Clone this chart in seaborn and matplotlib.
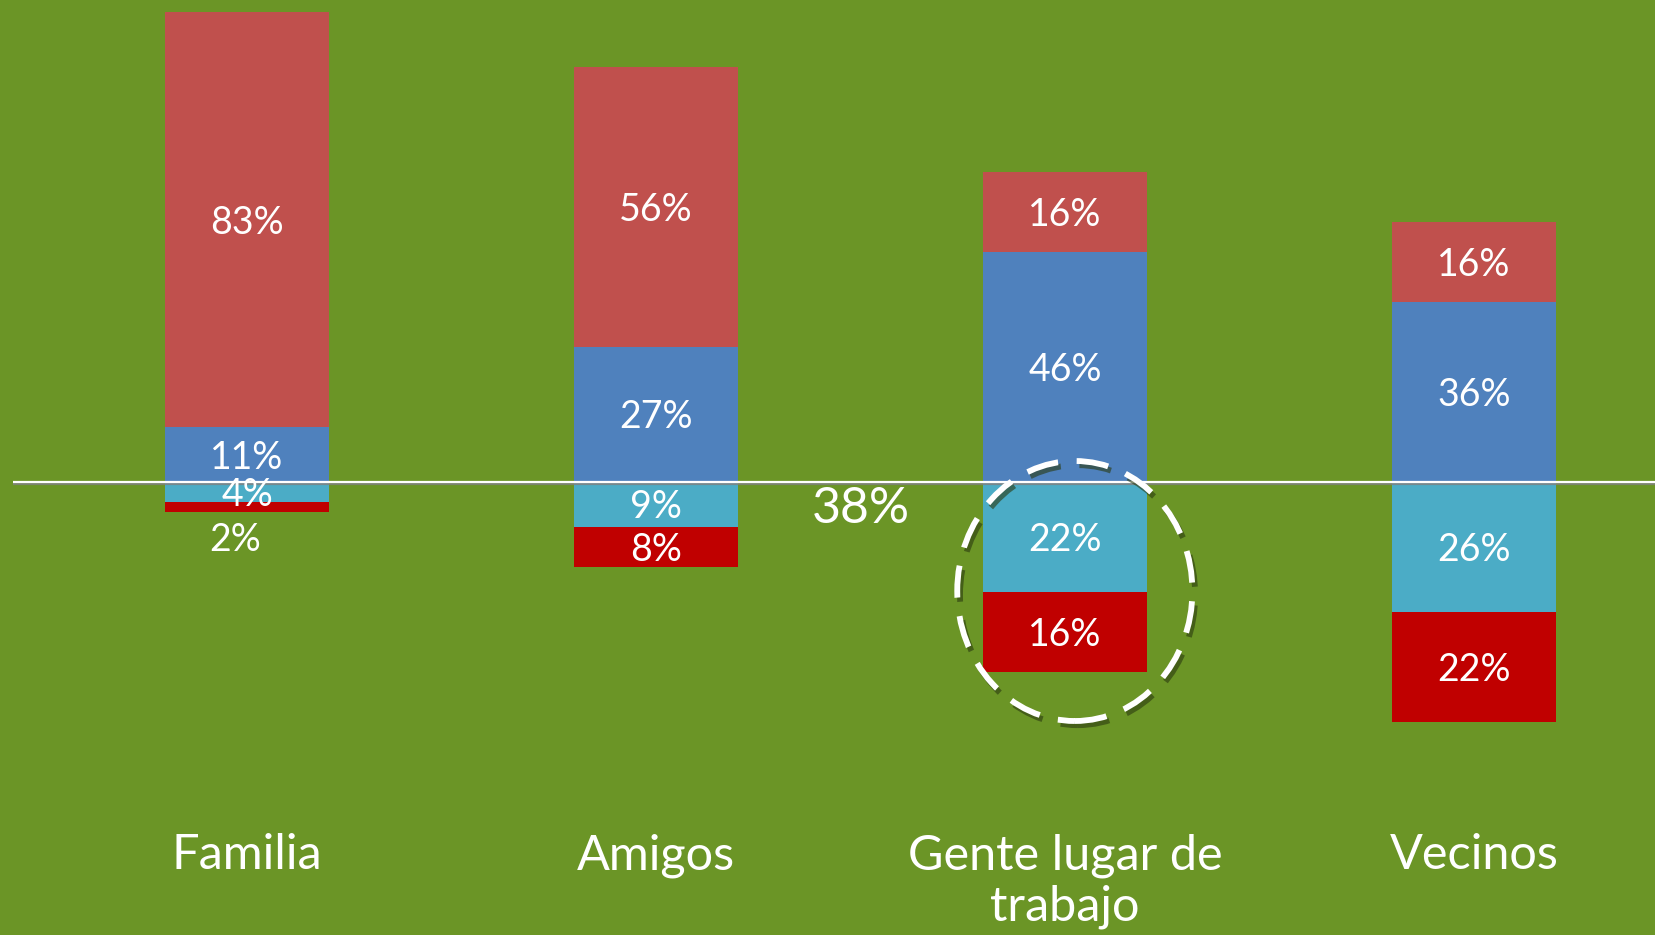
import numpy as np
import pandas as pd
from matplotlib import pyplot as plt
from matplotlib.patches import Ellipse
from matplotlib import patheffects as pe
import seaborn as sns

categories = ["Familia", "Amigos", "Gente lugar de\ntrabajo", "Vecinos"]
top_red = [83, 56, 16, 16]      # upper red segment
upper_blue = [11, 27, 46, 36]   # blue segment above the line
lower_cyan = [4, 9, 22, 26]     # light blue segment below the line
lower_red = [2, 8, 16, 22]      # dark red segment at the bottom
stray_label = "38%"

bg = "#6B9526"
c_red = "#C0504D"
c_blue = "#4F81BD"
c_cyan = "#4BACC6"
c_dred = "#C00000"

sns.set_theme(style="white")
plt.rcParams["font.family"] = ["Lato", "DejaVu Sans"]

df = pd.DataFrame({
    "cat": categories,
    "up_total": np.array(upper_blue) + np.array(top_red),
    "up_blue": upper_blue,
    "down_total": -(np.array(lower_cyan) + np.array(lower_red)),
    "down_cyan": [-v for v in lower_cyan],
})

fig = plt.figure(figsize=(16.56, 9.35), dpi=100, facecolor=bg)
ax = fig.add_axes([12.7 / 1656, 0, 1 - 12.7 / 1656, 1])
ax.set_facecolor(bg)

# stacked bars drawn as overlapping cumulative bars
for col, color in [("up_total", c_red), ("up_blue", c_blue),
                   ("down_total", c_dred), ("down_cyan", c_cyan)]:
    sns.barplot(data=df, x="cat", y=col, color=color, saturation=1,
                width=0.4, linewidth=0, ax=ax)

ax.set_xlim(-0.573, 3.445)
ax.set_ylim(-90.7, 96.3)
ax.axis("off")

# zero line
ax.axhline(0, color="white", lw=1.6,
           path_effects=[pe.SimpleLineShadow(offset=(0, -1.5), shadow_color="gray", alpha=0.8), pe.Normal()])

lab = dict(color="white", fontsize=27, ha="center", va="center_baseline")
for i in range(len(categories)):
    b, r = upper_blue[i], top_red[i]
    c, d = lower_cyan[i], lower_red[i]
    ax.text(i, b + r / 2, f"{r}%", **lab)
    ax.text(i, b / 2, f"{b}%", **lab)
    ax.text(i, -c / 2, f"{c}%", **lab)
    if d < 5:
        ax.text(i - 0.03, -c - d - 5, f"{d}%", **lab)
    else:
        ax.text(i, -c - d / 2, f"{d}%", **lab)
    ax.text(i, -70.3, categories[i], color="white", fontsize=35, ha="center",
            va="top", linespacing=1.2)

ax.text(1.5, -5.5, stray_label, color="white", fontsize=36, ha="center",
        va="center")

# dashed highlight around the lower part of the third bar
ell = Ellipse((2.024, -21.9), 0.575, 52, fill=False, edgecolor="white", lw=4.2,
              linestyle=(0, (5.5, 3.2)), zorder=5,
              path_effects=[pe.SimpleLineShadow(offset=(2, -3), shadow_color="#2a3a10", alpha=0.6), pe.Normal()])
ax.add_patch(ell)

fig.savefig("out.png", dpi=100, facecolor=bg)
